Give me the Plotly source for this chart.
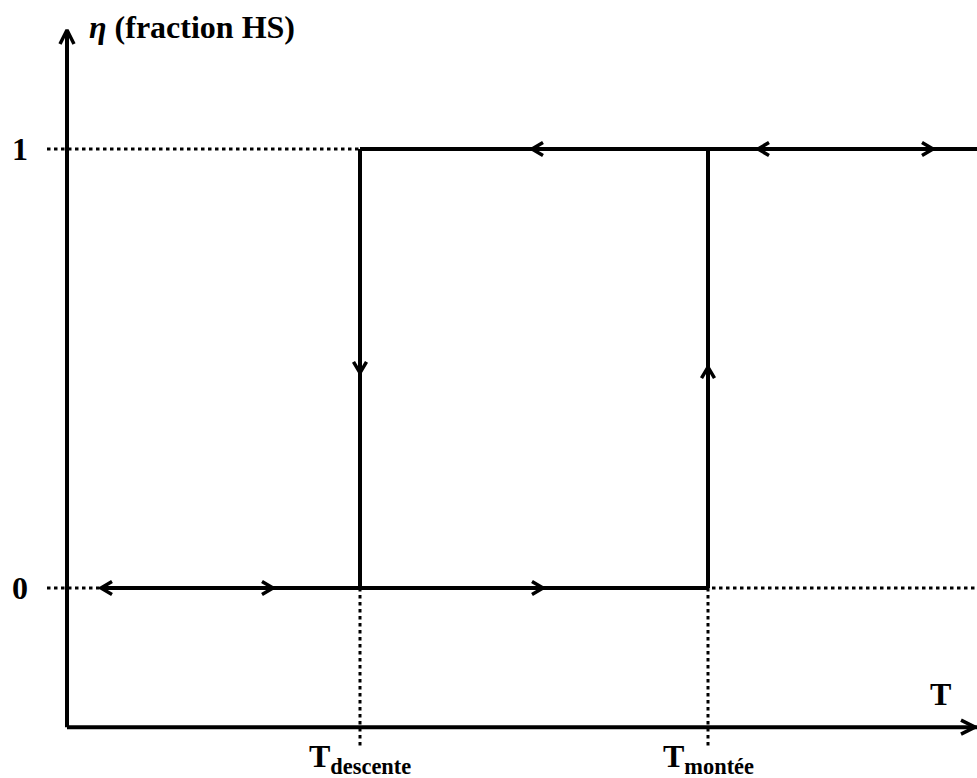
import plotly.graph_objects as go

# ---- data (arbitrary temperature units, eta = HS fraction) ----
T_DESCENTE = 2.93
T_MONTEE = 6.41
ETA_BS = 0.0   # low spin
ETA_HS = 1.0   # high spin

branche_bas_T = [0.34, T_MONTEE]        # solid branch at eta = 0
branche_haut_T = [T_DESCENTE, 9.10]     # solid branch at eta = 1
pointille_1_T = [-0.20, T_DESCENTE]     # dotted guide at eta = 1
pointille_0_T = [-0.20, 9.10]           # dotted guide at eta = 0
pointille_bas_eta = -0.362              # dotted drops below the T axis

axe_T_eta = -0.317                      # position of the T axis
axe_T_range = [0.0, 9.08]
axe_eta_range = [-0.317, 1.271]

# arrows on the loop: (T, eta, direction)
fleches = [
    (0.34, ETA_BS, "left"), (2.06, ETA_BS, "right"), (4.76, ETA_BS, "right"),
    (4.65, ETA_HS, "left"), (6.91, ETA_HS, "left"), (8.66, ETA_HS, "right"),
    (T_DESCENTE, 0.490, "down"), (T_MONTEE, 0.503, "up"),
]

tick_eta = [ETA_HS, ETA_BS]
tick_eta_labels = ["1", "0"]
tick_T = [T_DESCENTE, T_MONTEE]
tick_T_labels = ["T<sub>descente</sub>", "T<sub>montée</sub>"]

# ---- figure geometry ----
W, H = 977, 778
XR = [-0.67, 9.10]
YR = [-0.4328, 1.3394]
px_T = W / (XR[1] - XR[0])
px_eta = H / (YR[1] - YR[0])

FONT = "Liberation Serif"
LW = 4

fig = go.Figure()


def seg(xs, ys, dash="solid", width=LW):
    fig.add_trace(go.Scatter(x=xs, y=ys, mode="lines", hoverinfo="skip",
                             line=dict(color="black", width=width, dash=dash),
                             showlegend=False))


def chevron(t, e, d, length=11, half=6.5, width=3.5):
    ux, uy = {"left": (-1, 0), "right": (1, 0), "up": (0, 1), "down": (0, -1)}[d]
    px, py = -uy, ux
    bx = t - ux * length / px_T
    by = e - uy * length / px_eta
    xs = [bx + px * half / px_T, t, bx - px * half / px_T]
    ys = [by + py * half / px_eta, e, by - py * half / px_eta]
    seg(xs, ys, width=width)


DOT = "3.5px,3.5px"
# dotted guides
seg(pointille_1_T, [ETA_HS, ETA_HS], dash=DOT, width=3)
seg(pointille_0_T, [ETA_BS, ETA_BS], dash=DOT, width=3)
for t in tick_T:
    seg([t, t], [ETA_BS, pointille_bas_eta], dash=DOT, width=3)

# axes
seg(axe_T_range + [XR[1]], [axe_T_eta, axe_T_eta, axe_T_eta])
seg([0, 0], axe_eta_range)
chevron(0, axe_eta_range[1], "up", length=14, half=7)
chevron(axe_T_range[1], axe_T_eta, "right", length=14, half=7)

# hysteresis loop
seg(branche_bas_T, [ETA_BS, ETA_BS])
seg(branche_haut_T, [ETA_HS, ETA_HS])
seg([T_DESCENTE, T_DESCENTE], [ETA_HS, ETA_BS])
seg([T_MONTEE, T_MONTEE], [ETA_BS, ETA_HS])
for t, e, d in fleches:
    chevron(t, e, d)

# labels
for v, lab in zip(tick_eta, tick_eta_labels):
    fig.add_annotation(x=-0.47, y=v, text=f"<b>{lab}</b>", showarrow=False,
                       xanchor="center", yanchor="middle",
                       font=dict(family=FONT, size=32, color="black"))
for v, lab in zip(tick_T, tick_T_labels):
    fig.add_annotation(x=v, y=-0.338, text=f"<b>{lab}</b>", showarrow=False,
                       xanchor="center", yanchor="top",
                       font=dict(family=FONT, size=32, color="black"))
fig.add_annotation(x=0.20, y=1.278, text="<b><i>η</i> (fraction HS)</b>",
                   showarrow=False, xanchor="left", yanchor="middle",
                   font=dict(family=FONT, size=32, color="black"))
fig.add_annotation(x=8.73, y=-0.241, text="<b>T</b>", showarrow=False,
                   xanchor="center", yanchor="middle",
                   font=dict(family=FONT, size=32, color="black"))

fig.update_layout(
    width=W, height=H,
    margin=dict(l=0, r=0, t=0, b=0),
    paper_bgcolor="white", plot_bgcolor="white",
    xaxis=dict(range=XR, visible=False, fixedrange=True),
    yaxis=dict(range=YR, visible=False, fixedrange=True),
    showlegend=False,
)

fig.write_html("out.html", post_script="document.body.style.margin='0';",
               config={"displayModeBar": False})
